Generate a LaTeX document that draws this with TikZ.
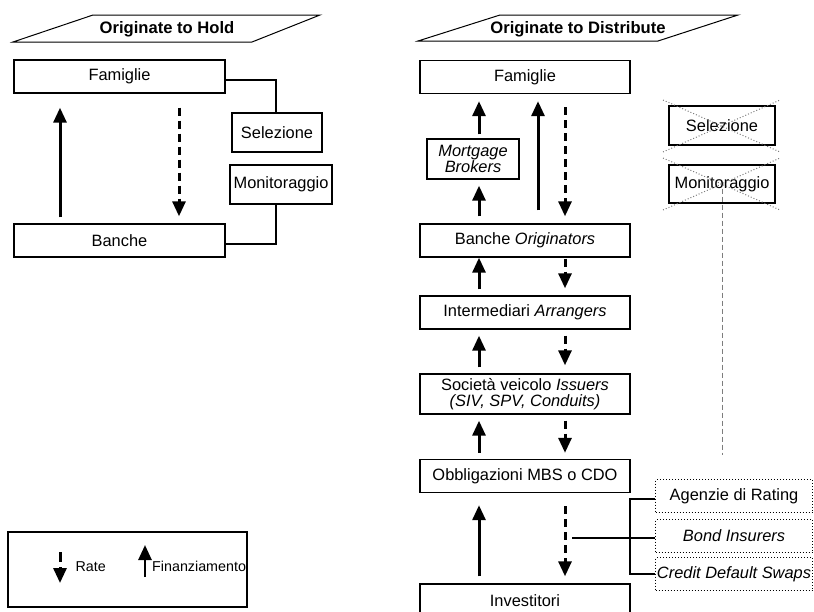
\documentclass[tikz,border=0pt]{standalone}
\usepackage{fontspec}
\setmainfont{Liberation Sans}
\usepackage{tikz}
\usetikzlibrary{shapes, arrows.meta, positioning, calc}

\definecolor{grigio1}{RGB}{125, 125, 125}

\tikzset{
  blocco/.style={draw, line width=1.4pt, inner sep=0pt, align=center,
    minimum width=210pt, minimum height=33pt, font=\fontsize{16.4}{17.5}\selectfont},
  piccolo/.style={blocco, minimum width=90pt, minimum height=39pt},
  puntini/.style={draw, dotted, line width=1pt, inner sep=0pt,
    minimum width=157pt, minimum height=33pt, font=\fontsize{16.4}{17.5}\selectfont},
  finanz/.style={-{Triangle[width=13pt,length=15pt]}, line width=3pt},
  rata/.style={-{Triangle[width=13pt,length=15pt]}, line width=3pt,
    dash pattern=on 8pt off 5pt},
  titolo/.style={font=\bfseries\fontsize{16.6}{18}\selectfont},
  croce/.style={draw=grigio1, dotted, line width=1pt}
}

\begin{document}
\begin{tikzpicture}[x=1pt, y=-1pt]
  \useasboundingbox (0,0) rectangle (814,611);

  % titles
  \draw[line width=1pt] (13,42) -- (93,15) -- (320,15) -- (252,42) -- cycle;
  \node[titolo] (tit1) at (167,29) {Originate to Hold};
  \draw[line width=1pt] (418,41) -- (500,15) -- (738,15) -- (658,41) -- cycle;
  \node[titolo] (tit2) at (578,29) {Originate to Distribute};

  % originate to hold
  \node[blocco, minimum width=211pt] (fam1) at (119.5,76.5) {Famiglie};
  \node[blocco, minimum width=211pt] (ban1) at (119.5,240.5) {Banche};
  \node[piccolo] (sel1) at (277,132.5) {Selezione};
  \node[piccolo, minimum width=102pt] (mon1) at (281,184.5) {Monitoraggio};
  \coordinate (cx) at (276,0);
  \draw[line width=1.4pt] ([yshift=-3.5pt]fam1.east) -| (sel1.north -| cx);
  \draw[line width=1.4pt] (mon1.south -| cx) |- ([yshift=-3.5pt]ban1.east);
  \draw[finanz, shorten <=6pt, shorten >=14pt] ([xshift=-59.5pt]ban1.north) -- ([xshift=-59.5pt]fam1.south);
  \draw[rata, shorten <=14pt, shorten >=7pt] ([xshift=59.5pt]fam1.south) -- ([xshift=59.5pt]ban1.north);

  % originate to distribute
  \node[blocco] (fam2) at (525,77) {Famiglie};
  \node[piccolo, minimum width=92pt, minimum height=40pt] (mort) at (473,159) {\itshape Mortgage\\[-2pt]\itshape Brokers};
  \node[blocco] (ban2) at (525,240.5) {Banche \textit{Originators}};
  \node[blocco] (arr) at (525,312.5) {Intermediari \textit{Arrangers}};
  \node[blocco, minimum height=40pt] (soc) at (525,394) {Società veicolo \textit{Issuers}\\[-2pt]\textit{(SIV, SPV, Conduits)}};
  \node[blocco] (obb) at (525,476) {Obbligazioni MBS o CDO};
  \node[blocco, minimum height=34pt] (inv) at (525,601) {Investitori};

  \node[piccolo, minimum width=106pt, minimum height=39pt] (sel2) at (722,125.5) {Selezione};
  \node[piccolo, minimum width=106pt, minimum height=38pt] (mon2) at (722,184) {Monitoraggio};
  \draw[croce] (663,100) -- (780,152) (663,152) -- (780,100);
  \draw[croce] (663,158) -- (780,210) (663,210) -- (780,158);
  \draw[draw=grigio1, line width=1pt, dash pattern=on 5pt off 3pt] ([yshift=15pt]mon2.south) -- (722,455);

  \node[puntini] (agz) at (734,496) {Agenzie di Rating};
  \node[puntini] (bond) at (734,536) {\itshape Bond Insurers};
  \node[puntini] (cds) at (734,574) {\itshape Credit Default Swaps};
  \coordinate (gan) at (630,499);
  \coordinate (cod) at (572,538);
  \draw[line width=1.8pt] (gan -| agz.west) -- (gan) |- (cds.west);
  \draw[line width=1.3pt] (cod) -- (cod -| bond.west);

  \draw[finanz, shorten <=4pt, shorten >=7pt] ([xshift=6pt]mort.north) -- ([xshift=6pt]mort.north |- fam2.south);
  \draw[finanz, shorten <=7pt, shorten >=6pt] ([xshift=6pt]mort.south |- ban2.north) -- ([xshift=6pt]mort.south);
  \draw[finanz, shorten <=13pt, shorten >=7pt] ([xshift=13pt]ban2.north) -- ([xshift=13pt]fam2.south);
  \draw[rata, shorten <=13pt, shorten >=7pt] ([xshift=40pt]fam2.south) -- ([xshift=40pt]ban2.north);

  \draw[finanz, shorten <=6pt] ([xshift=-46pt]arr.north) -- ([xshift=-46pt]ban2.south);
  \draw[rata, shorten <=1pt, shorten >=7pt] ([xshift=40pt]ban2.south) -- ([xshift=40pt]arr.north);
  \draw[finanz, shorten <=6pt, shorten >=6pt] ([xshift=-46pt]soc.north) -- ([xshift=-46pt]arr.south);
  \draw[rata, shorten <=6pt, shorten >=8pt] ([xshift=40pt]arr.south) -- ([xshift=40pt]soc.north);
  \draw[finanz, shorten <=6pt, shorten >=6pt] ([xshift=-46pt]obb.north) -- ([xshift=-46pt]soc.south);
  \draw[rata, shorten <=6pt, shorten >=6pt] ([xshift=40pt]soc.south) -- ([xshift=40pt]obb.north);
  \draw[finanz, shorten <=7pt, shorten >=12pt] ([xshift=-46pt]inv.north) -- ([xshift=-46pt]obb.south);
  \draw[rata, shorten <=13pt, shorten >=7pt] ([xshift=40pt]obb.south) -- ([xshift=40pt]inv.north);

  % legenda
  \node[draw, line width=1.4pt, minimum width=239pt, minimum height=75pt, inner sep=0pt] (leg) at (127.5,569.5) {};
  \coordinate (rt) at (60,552);
  \coordinate (fn) at (145,577);
  \draw[rata, dash pattern=on 10pt off 5pt] (rt) -- ++(0,31);
  \node[font=\fontsize{14.3}{15}\selectfont, anchor=west] (rtx) at (72,567) {Rate};
  \draw[finanz, line width=2.6pt] (fn) -- ++(0,-32);
  \node[font=\fontsize{14.3}{15}\selectfont, anchor=west, inner sep=1pt] (fnx) at (151,566) {Finanziamento};
\end{tikzpicture}
\end{document}
